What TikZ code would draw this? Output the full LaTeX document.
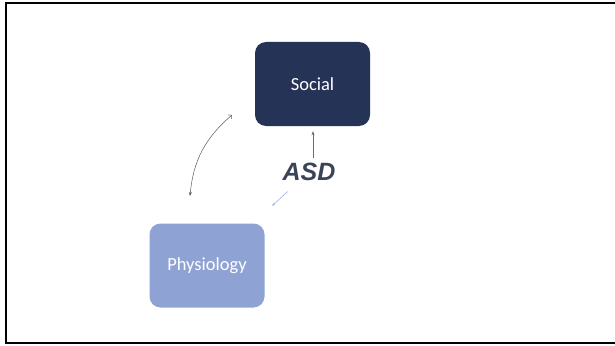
\documentclass[tikz,border=0pt]{standalone}
\usepackage{fontspec}
\setmainfont{Carlito}
\newfontfamily\asdfont{Liberation Sans}
\usetikzlibrary{positioning,arrows.meta}
\definecolor{socialblue}{HTML}{253356}
\definecolor{physioblue}{HTML}{8FA2D4}
\definecolor{asdgray}{HTML}{3B4457}
\definecolor{arrowlav}{HTML}{A7B0E4}

\begin{document}
\begin{tikzpicture}[x=1pt,y=-1pt,node distance=2cm,on grid,
    box/.style={rectangle,rounded corners=11pt,minimum width=115pt,
      minimum height=84pt,text=white,font=\fontsize{18.5}{22}\selectfont}]
   \useasboundingbox (0,0) rectangle (615,345);
   \draw[line width=1.6pt] (616,3) -- (6,3) -- (6,343) -- (616,343);
   \node[box,fill=socialblue] (social) at (312.5,84) {Social};
   \node[box,fill=physioblue] (physio) [below left=181.5pt and 105.5pt of social] {Physiology};
   \node[text=asdgray,inner sep=1pt,font=\asdfont\bfseries\itshape\fontsize{25}{28}\selectfont] (asd) at (309,172) {ASD};
   \coordinate (lo) at (190,196);
   \coordinate (up) at (232,115);
    \draw[-{Stealth[length=4pt,width=3pt]},color=asdgray!80,line width=0.5pt,shorten <=4pt,shorten >=5pt]
    ([xshift=4pt]asd.north) -- ([xshift=0.5pt]social.south);
    \draw[-{Stealth[length=3pt,width=3pt]},color=arrowlav,line width=0.6pt,shorten <=14pt,shorten >=26pt]
    (asd) -- (physio);
    \draw[{Stealth[length=4pt,width=3pt]}-{Straight Barb[length=2.5pt]},color=black!65,line width=0.5pt]
    (lo) to[bend left=22] (up);
\end{tikzpicture}
\end{document}
